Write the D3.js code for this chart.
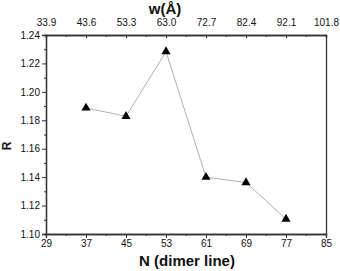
<!DOCTYPE html>
<html lang="en">
<head>
    <meta charset="UTF-8">
    <title>R vs N (dimer line)</title>
    <style>
        body { margin: 0; background: #fff; }
        text { font-family: "Liberation Sans", Arial, sans-serif; fill: #111; }
        .tick text { font-size: 10px; }
        .axis path, .axis line { stroke: #333; }
        .label { font-size: 15px; font-weight: bold; }
    </style>
</head>
<body>
<svg height="271" width="340"></svg>

<script src="https://d3js.org/d3.v7.min.js"></script>
<script>

    // data
    var dimerN = [37, 45, 53, 61, 69, 77];
    var ratioR = [1.1887, 1.1828, 1.2283, 1.1400, 1.1362, 1.1105];

    var nTicks = [29, 37, 45, 53, 61, 69, 77, 85];
    var wTickLabels = ["33.9", "43.6", "53.3", "63.0", "72.7", "82.4", "92.1", "101.8"];
    var rTicks = [1.10, 1.12, 1.14, 1.16, 1.18, 1.20, 1.22, 1.24];

    var svg = d3.select("svg"),
        margin = {top: 35, right: 14, bottom: 37, left: 46};

    var width = +svg.attr("width") - margin.left - margin.right;
    var height = +svg.attr("height") - margin.top - margin.bottom;

    var g = svg.append("g")
        .attr("transform", "translate(" + margin.left + "," + margin.top + ")");

    var x = d3.scaleLinear().domain([29, 85]).range([0, width]);
    var y = d3.scaleLinear().domain([1.10, 1.24]).range([height, 0]);

    // minor ticks first, then majors on top
    var minorX = d3.range(33, 85, 8);
    var minorY = d3.range(1.11, 1.24, 0.02);

    g.append("g")
        .attr("class", "axis")
        .attr("transform", "translate(0," + height + ")")
        .call(d3.axisBottom(x).tickValues(minorX).tickSize(2).tickFormat(""));
    g.append("g")
        .attr("class", "x axis")
        .attr("transform", "translate(0," + height + ")")
        .call(d3.axisBottom(x).tickValues(nTicks).tickSize(4).tickPadding(2).tickFormat(d3.format("d")));

    g.append("g")
        .attr("class", "axis")
        .call(d3.axisTop(x).tickValues(minorX).tickSize(-2).tickFormat(""));
    g.append("g")
        .attr("class", "x2 axis")
        .call(d3.axisTop(x).tickValues(nTicks).tickSize(-3).tickPadding(9)
            .tickFormat(function(d, i) { return wTickLabels[i]; }));

    g.append("g")
        .attr("class", "axis")
        .call(d3.axisLeft(y).tickValues(minorY).tickSize(2).tickFormat(""));
    g.append("g")
        .attr("class", "y axis")
        .call(d3.axisLeft(y).tickValues(rTicks).tickSize(4).tickPadding(2).tickFormat(d3.format(".2f")));

    g.append("g")
        .attr("class", "axis")
        .attr("transform", "translate(" + width + ",0)")
        .call(d3.axisRight(y).tickValues([]).tickSizeOuter(0));

    g.selectAll(".axis .domain").attr("stroke-width", 1.3);

    var pts = dimerN.map(function(n, i) { return [n, ratioR[i]]; });

    g.append("path")
        .datum(pts)
        .attr("fill", "none")
        .attr("stroke", "#b0b0b0")
        .attr("stroke-width", 1)
        .attr("d", d3.line()
            .x(function(d) { return x(d[0]); })
            .y(function(d) { return y(d[1]); }));

    g.selectAll(".pt")
        .data(pts)
        .enter()
        .append("path")
        .attr("class", "pt")
        .attr("fill", "#000")
        .attr("d", d3.symbol().type(d3.symbolTriangle).size(36))
        .attr("transform", function(d) { return "translate(" + x(d[0]) + "," + y(d[1]) + ")"; });

    svg.append("text")
        .attr("class", "label")
        .attr("text-anchor", "middle")
        .attr("x", 165)
        .attr("y", 14)
        .text("w(Å)");

    svg.append("text")
        .attr("class", "label")
        .attr("text-anchor", "middle")
        .attr("x", 187)
        .attr("y", 266)
        .text("N (dimer line)");

    svg.append("text")
        .attr("class", "label")
        .attr("text-anchor", "middle")
        .attr("font-size", "12px")
        .style("font-size", "12px")
        .attr("transform", "translate(11,146) rotate(-90)")
        .text("R");

</script>
</body>
</html>
